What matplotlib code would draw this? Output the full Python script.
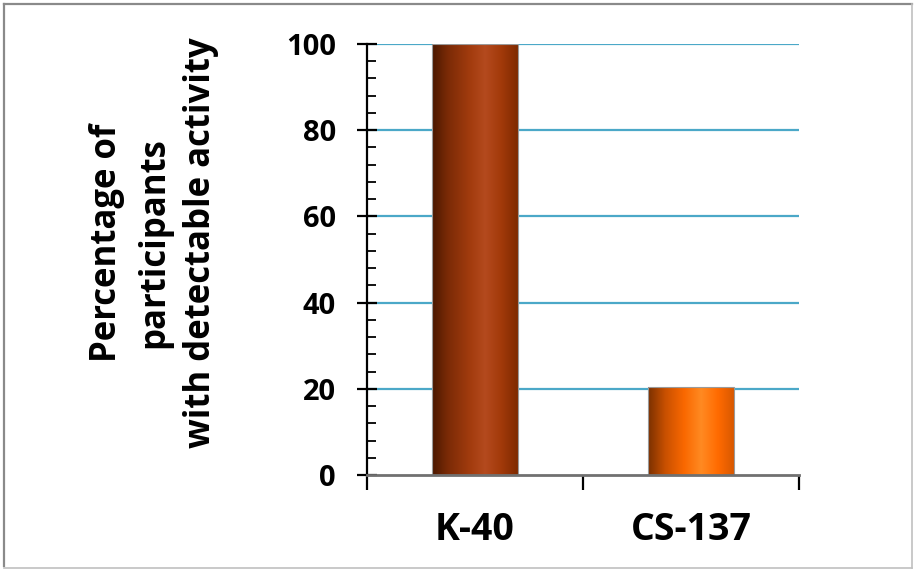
import numpy as np
import matplotlib
matplotlib.use("Agg")
import matplotlib.pyplot as plt
from matplotlib.colors import LinearSegmentedColormap
from matplotlib.lines import Line2D

categories = ["K-40", "CS-137"]
values = [100, 20.5]
yticks = [0, 20, 40, 60, 80, 100]
ylabel_text = "Percentage of\nparticipants\nwith detectable activity"

plt.rcParams['font.family'] = ['Open Sans', 'DejaVu Sans']

W, H = 914, 569
fig = plt.figure(figsize=(W / 100, H / 100), dpi=100)
ax = fig.add_axes([367 / W, 1 - 475 / H, (799 - 367) / W, (475 - 44) / H])

x = np.arange(len(categories))
bw = 0.395
bars = ax.bar(x, values, width=bw, color="none", edgecolor="#9a9a9a", linewidth=0.8, zorder=3)

grads = [
    [(0.0, "#4a1800"), (0.18, "#7a2a06"), (0.45, "#a33c0e"), (0.62, "#b44a1e"), (0.8, "#a33a0a"), (1.0, "#7f2a00")],
    [(0.0, "#7a3000"), (0.2, "#c85000"), (0.42, "#fa6800"), (0.62, "#ff8a22"), (0.82, "#ff6a00"), (1.0, "#d85800")],
]
grad = np.linspace(0, 1, 256).reshape(1, -1)
for b, g in zip(bars, grads):
    cmap = LinearSegmentedColormap.from_list("g", g)
    bx, by = b.get_x(), b.get_y()
    im = ax.imshow(grad, cmap=cmap, aspect="auto",
                   extent=[bx, bx + b.get_width(), by, by + b.get_height()],
                   zorder=2, interpolation="bicubic")
    im.set_clip_path(b)

ax.set_xlim(-0.5, 1.5)
ax.set_ylim(0, 100)

for yv in yticks[1:]:
    ax.axhline(yv, color="#4ba8c8", lw=1.6, zorder=1)

ax.set_yticks(yticks)
ax.set_yticklabels([str(v) for v in yticks], fontsize=21, fontweight="bold")
ax.set_yticks(np.arange(0, 101, 4), minor=True)
ax.tick_params(axis="y", which="major", direction="inout", length=14.5, width=1.6, pad=15, color="black")
ax.tick_params(axis="y", which="minor", direction="in", length=6.5, width=1.3, color="black")

ax.set_xticks([-0.5, 0.5, 1.5])
ax.set_xticklabels(["", "", ""])
ax.set_xticks(x, minor=True)
ax.set_xticklabels(categories, minor=True, fontsize=27, fontweight="bold")
ax.tick_params(axis="x", which="major", direction="out", length=11, width=1.6, color="black")
ax.tick_params(axis="x", which="minor", length=0, pad=26)

for s in ["top", "right"]:
    ax.spines[s].set_visible(False)
ax.spines["left"].set_color("black")
ax.spines["left"].set_linewidth(1.6)
ax.spines["bottom"].set_color("#707070")
ax.spines["bottom"].set_linewidth(2)
ax.spines["left"].set_zorder(4)
ax.spines["bottom"].set_zorder(4)

fig.text(154 / W, 1 - 243 / H, ylabel_text, rotation=90, ha="center", va="center",
         fontsize=25, fontweight="bold", multialignment="center", linespacing=1.4)

# figure border
fig.add_artist(Line2D([3.5 / W, 3.5 / W], [3.5 / H, 1 - 3.5 / H], transform=fig.transFigure, color="#8a8a8a", lw=1.6))
fig.add_artist(Line2D([3.5 / W, 1 - 2.5 / W], [1 - 3.5 / H, 1 - 3.5 / H], transform=fig.transFigure, color="#8a8a8a", lw=1.6))
fig.add_artist(Line2D([1 - 2.5 / W, 1 - 2.5 / W], [1.5 / H, 1 - 3.5 / H], transform=fig.transFigure, color="#c0c0c0", lw=1.2))
fig.add_artist(Line2D([3.5 / W, 1 - 2.5 / W], [1.5 / H, 1.5 / H], transform=fig.transFigure, color="#c0c0c0", lw=1.2))

fig.savefig("out.png", dpi=100, facecolor="white")
